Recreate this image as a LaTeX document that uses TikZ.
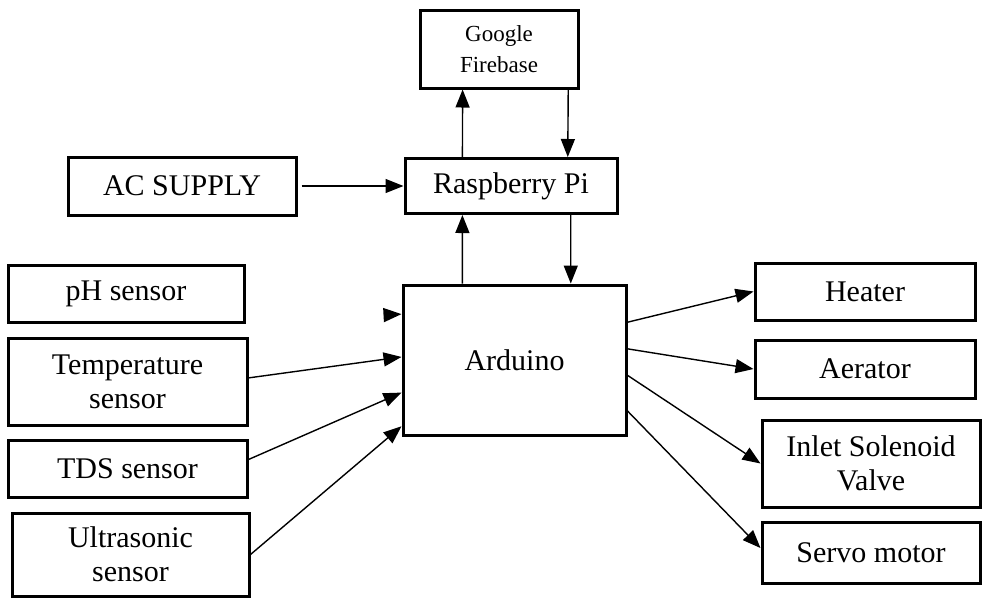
\documentclass[tikz,border=0pt]{standalone}
\usepackage{fontspec}
\setmainfont{Liberation Serif}
\usetikzlibrary{arrows.meta,calc}

\tikzset{
  block/.style={draw, line width=3pt, inner sep=0pt, align=center,
    font=\fontsize{30}{34}\selectfont},
  link/.style={line width=1.4pt, -{Triangle[length=18pt,width=14pt]}}
}

\begin{document}
\begin{tikzpicture}[x=1pt, y=-1pt]

            \useasboundingbox (0,0) rectangle (992,603);

            % Cloud and controller
            \node[block, minimum width=158pt, minimum height=78pt, font=\fontsize{23}{31}\selectfont] (fire) at (499,49) {Google\\Firebase};
            \node[block, minimum width=212pt, minimum height=55pt] (rpi) at (511,186) {Raspberry Pi};
            \node[block, minimum width=228pt, minimum height=58pt] (ac) at (182,186) {AC SUPPLY};
            \node[block, minimum width=223pt, minimum height=150pt] (ard) at (514.5,360) {Arduino};

            % Sensors
            \node[block, minimum width=236pt, minimum height=57pt] (ph) at (126,293.5) {pH sensor};
            \node[block, minimum width=239pt, minimum height=87pt] (temp) at (127.5,381.5) {Temperature\\sensor};
            \node[block, minimum width=239pt, minimum height=57pt] (tds) at (127.5,468.5) {TDS sensor};
            \node[block, minimum width=237pt, minimum height=83pt] (ultra) at (130.5,554.5) {Ultrasonic\\sensor};

            % Actuators
            \node[block, minimum width=220pt, minimum height=57pt] (heat) at (865,291.5) {Heater};
            \node[block, minimum width=220pt, minimum height=58pt] (aer) at (865,369) {Aerator};
            \node[block, minimum width=218pt, minimum height=87pt] (inlet) at (871,463.5) {Inlet Solenoid\\Valve};
            \node[block, minimum width=218pt, minimum height=61pt] (servo) at (871,552.5) {Servo motor};

            \coordinate (phend) at (385,315);

            % Raspberry Pi links
            \draw[link] ($(rpi.north west)!0.274!(rpi.north east)$) -- ($(fire.south west)!0.274!(fire.south east)$);
            \draw[link] ($(fire.south west)!0.93!(fire.south east)$) -- ($(rpi.north west)!0.764!(rpi.north east)$);
            \draw[link] (ac.east) ++(4,0) -- (rpi.west);
            \draw[link] ($(ard.north west)!0.269!(ard.north east)$) -- ($(rpi.south west)!0.274!(rpi.south east)$);
            \draw[link] ($(rpi.south west)!0.778!(rpi.south east)$) -- ($(ard.north west)!0.749!(ard.north east)$);

            % Sensor inputs
            \draw[link] (phend) -- ($(ard.north west)!0.2!(ard.south west)$);
            \draw[link] ($(temp.north east)!0.46!(temp.south east)$) -- ($(ard.north west)!0.48!(ard.south west)$);
            \draw[link] ($(tds.north east)!0.35!(tds.south east)$) -- ($(ard.north west)!0.713!(ard.south west)$);
            \draw[link] (ultra.east) -- ($(ard.north west)!0.933!(ard.south west)$);

            % Actuator outputs
            \draw[link] ($(ard.north east)!0.253!(ard.south east)$) -- (heat.west);
            \draw[link] ($(ard.north east)!0.427!(ard.south east)$) -- (aer.west);
            \draw[link] ($(ard.north east)!0.6!(ard.south east)$) -- (inlet.west);
            \draw[link] ($(ard.north east)!0.833!(ard.south east)$) -- ($(servo.north west)!0.43!(servo.south west)$);

\end{tikzpicture}
\end{document}
